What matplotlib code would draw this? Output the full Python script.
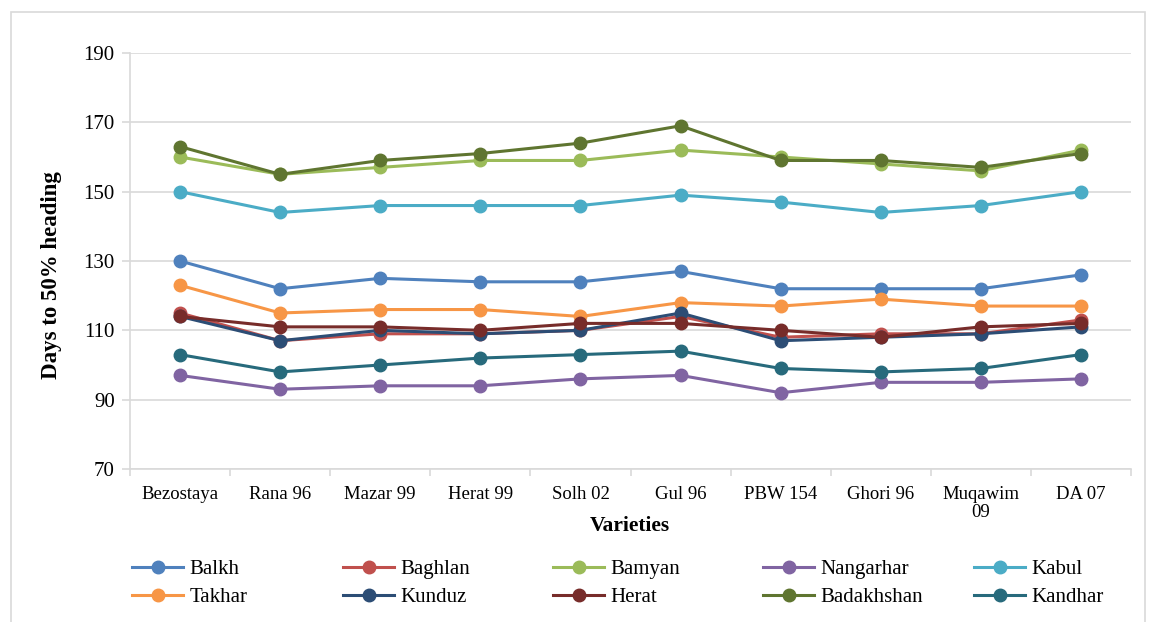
import numpy as np
import matplotlib.pyplot as plt
from matplotlib.patches import Rectangle

plt.rcParams['font.family'] = ['Liberation Serif', 'DejaVu Serif']

varieties = ['Bezostaya', 'Rana 96', 'Mazar 99', 'Herat 99', 'Solh 02',
             'Gul 96', 'PBW 154', 'Ghori 96', 'Muqawim\n09', 'DA 07']

balkh = [130, 122, 125, 124, 124, 127, 122, 122, 122, 126]
baghlan = [115, 107, 109, 109, 110, 114, 108, 109, 109, 113]
bamyan = [160, 155, 157, 159, 159, 162, 160, 158, 156, 162]
nangarhar = [97, 93, 94, 94, 96, 97, 92, 95, 95, 96]
kabul = [150, 144, 146, 146, 146, 149, 147, 144, 146, 150]
takhar = [123, 115, 116, 116, 114, 118, 117, 119, 117, 117]
kunduz = [114, 107, 110, 109, 110, 115, 107, 108, 109, 111]
herat = [114, 111, 111, 110, 112, 112, 110, 108, 111, 112]
badakhshan = [163, 155, 159, 161, 164, 169, 159, 159, 157, 161]
kandhar = [103, 98, 100, 102, 103, 104, 99, 98, 99, 103]

series = [
    ('Balkh', balkh, '#4F81BD'),
    ('Baghlan', baghlan, '#C0504D'),
    ('Bamyan', bamyan, '#9BBB59'),
    ('Nangarhar', nangarhar, '#8064A2'),
    ('Kabul', kabul, '#4BACC6'),
    ('Takhar', takhar, '#F79646'),
    ('Kunduz', kunduz, '#2C4D75'),
    ('Herat', herat, '#772C2A'),
    ('Badakhshan', badakhshan, '#5F7530'),
    ('Kandhar', kandhar, '#276A7C'),
]

W, H = 1156, 622
fig = plt.figure(figsize=(W / 100, H / 100), dpi=100)
# outer chart border
fig.patches.append(Rectangle((11 / W, -0.01), 1134 / W, 1 - 12 / H + 0.01,
                             transform=fig.transFigure, fill=False,
                             edgecolor='#D9D9D9', linewidth=1.2))

ax = fig.add_axes([130 / W, 1 - 469 / H, 1001 / W, 416 / H])
x = np.arange(len(varieties))

handles = []
for name, vals, col in series:
    ln, = ax.plot(x, vals, color=col, linewidth=2.2, marker='o',
                  markersize=9, label=name)
    handles.append(ln)

ax.set_xlim(-0.5, len(varieties) - 0.5)
ax.set_ylim(70, 190)
ax.set_yticks(np.arange(70, 191, 20))
ax.yaxis.grid(True, color='#D9D9D9', linewidth=1.2)
ax.set_axisbelow(True)

ax.set_xticks(x)
ax.set_xticklabels(varieties, fontsize=13.5, linespacing=1.1)
ax.set_xticks(np.arange(-0.5, len(varieties), 1), minor=True)
ax.tick_params(axis='x', which='major', length=0, pad=12)
ax.tick_params(axis='x', which='minor', length=5, color='#D9D9D9', width=1.2)
ax.tick_params(axis='y', length=6, color='#D9D9D9', width=1.2,
               labelsize=15, pad=5)

for s in ['top', 'right']:
    ax.spines[s].set_visible(False)
for s in ['left', 'bottom']:
    ax.spines[s].set_color('#D9D9D9')
    ax.spines[s].set_linewidth(1.2)

fig.text(630 / W, 1 - 526 / H, 'Varieties', fontsize=15.5, fontweight='bold',
         ha='center', va='center')
fig.text(52 / W, 1 - 275 / H, 'Days to 50% heading', fontsize=16.5,
         fontweight='bold', rotation=90, ha='center', va='center')

# legend: 5 columns, 2 rows, filled row by row
col_x = [124, 335, 545, 755, 966]
for i, cx in enumerate(col_x):
    fig.legend(handles=[handles[i], handles[i + 5]], loc='upper left',
               bbox_to_anchor=(cx / W, 1 - 551 / H), frameon=False,
               fontsize=15, handlelength=2.45, handletextpad=0.3,
               labelspacing=0.4, borderaxespad=0)

fig.savefig('out.png', dpi=100)
